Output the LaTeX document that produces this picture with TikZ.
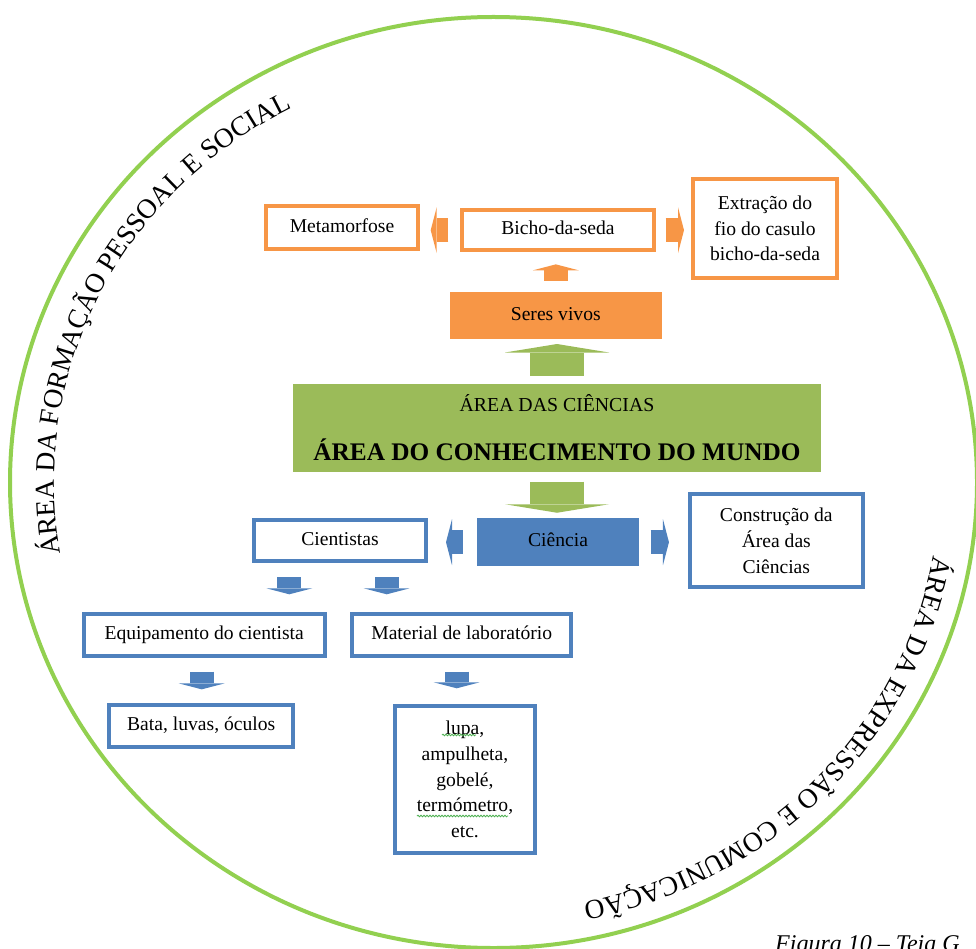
\documentclass[tikz,border=0pt]{standalone}
\usepackage{fontspec}
\setmainfont{Liberation Serif}
\usepackage{xcolor}
\usepackage{tikz}
\usetikzlibrary{arrows.meta, decorations.text, decorations.pathmorphing}

\definecolor{laranja}{HTML}{F79646}
\definecolor{verde}{HTML}{9BBB59}
\definecolor{azul}{HTML}{4F81BD}
\definecolor{verdeclaro}{HTML}{92D050}
\definecolor{sublinha}{HTML}{4CAF50}

\newcommand{\caixafont}{\fontsize{19.6}{25.6}\selectfont}
\newcommand{\arcofont}{\fontsize{27.5}{30}\selectfont}

\begin{document}
\begin{tikzpicture}[x=1pt, y=-1pt, font=\caixafont,
    caixa/.style={line width=4pt, inner sep=0pt, align=center},
    caixal/.style={caixa, draw=laranja},
    caixaa/.style={caixa, draw=azul},
    cheia/.style={inner sep=0pt, outer sep=0pt, align=center},
    linha/.style={text height=13pt, text depth=4pt},
    seta/.style={line width=24pt, -{Triangle[length=6pt, width=46pt, line width=0pt]}},
    setag/.style={line width=54pt, -{Triangle[length=8.5pt, width=104pt, line width=0pt]}},
    arco/.style={decorate, decoration={text along path, text align=center, text={|\arcofont|#1}}},
    erro/.style={draw=sublinha, line width=0.8pt, decorate, decoration={snake, amplitude=0.8pt, segment length=3pt}}]
    \useasboundingbox (0,0) rectangle (976,949);
    % circulo
    \coordinate (centro) at (493.5,482.5);
    \draw[verdeclaro, line width=4pt] (centro) ellipse [x radius=483.5, y radius=465.5];
    % areas em volta
    \path[arco={ÁREA DA FORMAÇÃO PESSOAL E SOCIAL}] ([shift={(156.3:439.5 and 421.5)}]centro) arc[start angle=156.3, end angle=256.3, x radius=439.5, y radius=421.5];
    \path[arco={ÁREA DA EXPRESSÃO E COMUNICAÇÃO}] ([shift={(-6.2:446.5 and 428.5)}]centro) arc[start angle=-6.2, end angle=93.8, x radius=446.5, y radius=428.5];
    % seres vivos
    \node[caixal, linha, minimum width=152pt, minimum height=42.7pt] (meta) at (342,227.7) {Metamorfose};
    \node[caixal, linha, minimum width=192pt, minimum height=39.7pt] (bicho) at (558,230.2) {Bicho-da-seda};
    \node[caixal, minimum width=144pt, minimum height=99.3pt] (extr) at (765,228.3) {Extração do\\fio do casulo\\bicho-da-seda};
    \node[cheia, linha, fill=laranja, minimum width=211.7pt, minimum height=47.6pt] (seres) at (555.8,315.5) {Seres vivos};
    % area do conhecimento do mundo
    \node[cheia, fill=verde, minimum width=528pt, minimum height=87.7pt] (conh) at (557,427.8) {};
    \node[anchor=base, font=\fontsize{19.8}{24}\selectfont] (ciencias) at (557,411.7) {ÁREA DAS CIÊNCIAS};
    \node[anchor=base, font=\bfseries\fontsize{25.3}{30}\selectfont] (mundo) at (557,460) {ÁREA DO CONHECIMENTO DO MUNDO};
    % ciencia
    \node[cheia, linha, fill=azul, minimum width=162.6pt, minimum height=47.7pt] (ciencia) at (558,542.2) {Ciência};
    \node[caixaa, linha, minimum width=172.6pt, minimum height=41.6pt] (cient) at (340,540.5) {Cientistas};
    \node[caixaa, minimum width=173.3pt, minimum height=93pt] (constr) at (776.3,540.8) {Construção da\\Área das\\Ciências};
    \node[caixaa, linha, minimum width=241pt, minimum height=42.6pt] (equip) at (204.2,635) {Equipamento do cientista};
    \node[caixaa, linha, minimum width=219.3pt, minimum height=42.6pt] (mater) at (461.7,635) {Material de laboratório};
    \node[caixaa, linha, minimum width=183.7pt, minimum height=42.3pt] (bata) at (201.2,725.9) {Bata, luvas, óculos};
    \node[caixaa, minimum width=139.4pt, minimum height=147pt] (lupa) at (465,779.5) {lupa,\\ampulheta,\\gobelé,\\termómetro,\\etc.};
    % setas
    \draw[seta, laranja, shorten <=11.7pt, shorten >=10.7pt] (bicho.west) -- (bicho.west -| meta.east);
    \draw[seta, laranja, shorten <=9.7pt, shorten >=7pt] (bicho.east) -- (bicho.east -| extr.west);
    \draw[seta, laranja, shorten <=10.7pt, shorten >=12.3pt] (seres.north) -- (seres.north |- bicho.south);
    \draw[setag, verde, shorten <=8pt, shorten >=4.7pt] (conh.north) -- (conh.north |- seres.south);
    \draw[setag, verde, shorten <=10pt, shorten >=5.6pt] (conh.south) -- (conh.south |- ciencia.north);
    \draw[seta, azul, shorten <=14pt, shorten >=17.7pt] (ciencia.west) -- (ciencia.west -| cient.east);
    \draw[seta, azul, shorten <=11.4pt, shorten >=18.7pt] (ciencia.east) -- (ciencia.east -| constr.west);
    \draw[seta, azul, shorten <=14pt, shorten >=17.4pt] (cient.south -| 289.3,0) -- (equip.north -| 289.3,0);
    \draw[seta, azul, shorten <=14pt, shorten >=17.4pt] (cient.south -| 386.7,0) -- (mater.north -| 386.7,0);
    \draw[seta, azul, shorten <=13.4pt, shorten >=13.4pt] (equip.south -| 201.7,0) -- (bata.north -| 201.7,0);
    \draw[seta, azul, shorten <=13.4pt, shorten >=15.7pt] (mater.south -| 456.7,0) -- (lupa.north -| 456.7,0);
    % sublinhados
    \draw[erro] (442,735) -- (476,735);
    \draw[erro] (417,816) -- (508,816);
    % legenda
    \node[anchor=base west, inner sep=0pt, font=\itshape\fontsize{24}{28}\selectfont] (legenda) at (775,951) {Figura 10 – Teia G};
\end{tikzpicture}
\end{document}
